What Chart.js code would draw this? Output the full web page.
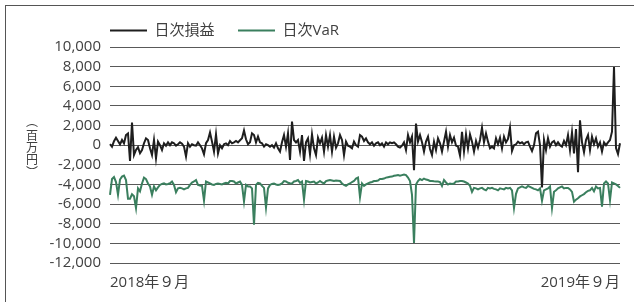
<!DOCTYPE html>
<html>
<head>
<meta charset="utf-8">
<script src="https://cdn.jsdelivr.net/npm/chart.js@4"></script>
<style>
  html, body { margin: 0; padding: 0; background: #fff; }
  #wrap { position: relative; width: 634px; height: 302px; }
  #frame { position: absolute; left: 5px; top: 5px; right: 0; bottom: 0;
           border-left: 1px solid #555; border-top: 1px solid #555; pointer-events: none; }
</style>
</head>
<body>
<div id="wrap">
  <canvas id="myChartLine" width="634" height="302"></canvas>
  <div id="frame"></div>
</div>
<script>
const seriesNames = ["日次損益", "日次VaR"];
const tickLabels = ["2018年９月", "2019年９月"];
// unit label, written top to bottom (vertical bracket forms)
const unitLabel = "︵百万円︶";

// daily P&L, millions of yen
const pnl = [
  100, -150, 400, 760, 430, 90, 530, 190, 1030, 1200,
  -1600, 2300, -1000, -490, -200, -820, -490, 200, 700, 530,
  -320, -1000, 530, -1330, 360, 0, -490, 190, -50, 290,
  0, 290, 200, -50, 100, 290, 150, -150, -1160, 200,
  -150, 100, 0, -50, 290, 0, -320, -930, 200, 530,
  1300, 360, -650, 1100, -830, 0, -320, 100, 190, 0,
  430, 190, 290, 430, 290, 500, 700, 1500, 600, 90,
  300, 1200, 1030, 290, 870, 290, 190, -150, 90, 0,
  -150, 0, -250, 190, -320, -650, 290, 1030, -150, 1200,
  -1500, 2400, 530, 290, 530, -650, 1030, -1600, 290, 700,
  -930, 1100, -320, -1000, 760, 190, 760, -650, 1030, -150,
  1030, -650, 870, -250, 190, 1030, 530, -1000, 360, -50,
  -150, -320, 360, 0, -150, 1030, 870, 430, 700, 290,
  90, 290, -50, 190, 290, 0, 190, -150, 290, 90,
  290, 200, 290, 90, -150, -250, -50, 290, -490, 1030,
  290, 870, -2550, 2200, 360, 1030, 290, -650, 360, 870,
  -390, -1000, 360, -490, 700, 190, -650, 360, 1370, -150,
  1030, 290, 760, -50, -150, -1050, 1370, -650, 1100, -320,
  1100, 360, -650, 430, -250, 530, 1780, 290, 1200, 360,
  -320, -150, -320, 700, 90, 760, -320, 870, 290, 630,
  1780, -590, 0, 90, 360, 190, 290, 90, 290, 360,
  -150, -590, 0, 1200, 1370, 0, -4300, 530, -490, 700,
  -150, 290, 430, 0, 290, 0, -150, 430, 0, 1030,
  -490, 1300, -830, 1640, -2750, 2540, 290, -720, 530, 1030,
  -490, 870, 90, 700, -150, 290, -650, 290, 0, 290,
  530, 1370, 7960, -300, -900, 200
];

// daily VaR
const dailyVar = [
  -5050, -3450, -3250, -3750, -5050, -3500, -3200, -3100, -3550, -5450,
  -5450, -5000, -5200, -6400, -4400, -4700, -3900, -3300, -3450, -3900,
  -4200, -5050, -4200, -4600, -4300, -4050, -3950, -3880, -4000, -3950,
  -3880, -3700, -4050, -4800, -4400, -4350, -4400, -4500, -4400, -4350,
  -4050, -3800, -3700, -3550, -4050, -4100, -4150, -5650, -3700, -3800,
  -3900, -4000, -4050, -3950, -3900, -3950, -4000, -3900, -3830, -3900,
  -3650, -3650, -3700, -3900, -3800, -3700, -4050, -5730, -4050, -4200,
  -4200, -4400, -8100, -4050, -3830, -3900, -4150, -4350, -6340, -4400,
  -4050, -3950, -3900, -4000, -4050, -4000, -3900, -3650, -3700, -3830,
  -3880, -3900, -3700, -3650, -3550, -3830, -3700, -5560, -3650, -3700,
  -3800, -3750, -3700, -3900, -3800, -3650, -3800, -3900, -3650, -3600,
  -3550, -3600, -3650, -3600, -3620, -3650, -3900, -4050, -4150, -4000,
  -3900, -3750, -3650, -3400, -3300, -5300, -3900, -4150, -4000, -3900,
  -3800, -3750, -3650, -3650, -3600, -3450, -3450, -3400, -3300, -3260,
  -3220, -3200, -3120, -3080, -3050, -3120, -3050, -2980, -3050, -3300,
  -3650, -5050, -9960, -4000, -3650, -3450, -3550, -3400, -3500, -3550,
  -3650, -3650, -3680, -3700, -3700, -3750, -4150, -3550, -3800, -4000,
  -3900, -3950, -3900, -3700, -3700, -3650, -3650, -3700, -3800, -3900,
  -4150, -4750, -4350, -4400, -4500, -4400, -4350, -4500, -4600, -4350,
  -4400, -4350, -4450, -4500, -4600, -4400, -4450, -4500, -4350, -4400,
  -4350, -4600, -6400, -4950, -4400, -4300, -4200, -4300, -4350, -4150,
  -4250, -4350, -4450, -4500, -4600, -4400, -5660, -4600, -4500, -4400,
  -4200, -6400, -4750, -4600, -4400, -4300, -4200, -4400, -4350, -4350,
  -4500, -4750, -5760, -5550, -5400, -5220, -5100, -4980, -4800, -4650,
  -4600, -4350, -4700, -4200, -4400, -4350, -6250, -3900, -3700, -3900,
  -5600, -3800, -3900, -4000, -4150, -4350
];

const yTicks = { min: -12000, max: 10000, step: 2000 };

const textColor = "#404040";
const fontFamily = '"Open Sans", "Noto Sans CJK JP", sans-serif';
const days = pnl.map((v, i) => i);

// move the legend to the left edge of the plot and up
const legendShift = {
  id: "legendShift",
  afterLayout(chart) {
    chart.legend.left -= 23.5;
    chart.legend.top -= 13.5;
  }
};

const yUnit = {
  id: "yUnit",
  afterDraw(chart) {
    const ctx = chart.ctx;
    const offs = [121, 135, 147, 159, 172];
    ctx.save();
    ctx.fillStyle = textColor;
    ctx.font = '12px "Noto Sans CJK JP"';
    ctx.textAlign = "center";
    ctx.textBaseline = "middle";
    unitLabel.split("").forEach((c, i) => ctx.fillText(c, 32, offs[i]));
    ctx.restore();
  }
};

const canvas_line = document.getElementById("myChartLine");
let myChart_line = new Chart(canvas_line, {
  type: "line",
  data: {
    labels: days,
    datasets: [
      {
        label: seriesNames[0],
        data: pnl,
        borderColor: "#1e1e1e",
        backgroundColor: "#1e1e1e",
        borderWidth: 2,
      },
      {
        label: seriesNames[1],
        data: dailyVar,
        borderColor: "#3a7f5e",
        backgroundColor: "#3a7f5e",
        borderWidth: 2,
      },
    ],
  },
  options: {
    responsive: false,
    animation: false,
    devicePixelRatio: 1,
    events: [],
    layout: { padding: { top: 13, right: 14, bottom: 0, left: 0 } },
    elements: {
      point: { radius: 0 },
      line: { tension: 0 },
    },
    plugins: {
      tooltip: { enabled: false },
      legend: {
        position: "top",
        align: "start",
        fullSize: false,
        maxHeight: 34,
        labels: {
          usePointStyle: true,
          pointStyle: "line",
          pointStyleWidth: 37,
          padding: 23.5,
          color: textColor,
          font: { family: fontFamily, size: 15 },
        },
      },
    },
    scales: {
      x: {
        grid: { display: false, drawTicks: false },
        border: { display: false },
        ticks: {
          autoSkip: false,
          maxRotation: 0,
          align: "inner",
          padding: 11,
          color: textColor,
          font: { family: fontFamily, size: 15 },
          callback: (v, i, ticks) =>
            i === 0 ? tickLabels[0] : i === ticks.length - 1 ? tickLabels[1] : "",
        },
        afterFit: (s) => { s.height = 39; },
      },
      y: {
        min: yTicks.min,
        max: yTicks.max,
        grid: { color: "#595959", drawTicks: false },
        border: { display: false },
        ticks: {
          autoSkip: false,
          stepSize: yTicks.step,
          padding: 9,
          color: textColor,
          font: { family: fontFamily, size: 15 },
        },
        afterFit: (s) => { s.width = 110; },
      },
    },
  },
  plugins: [legendShift, yUnit],
});
</script>
</body>
</html>
